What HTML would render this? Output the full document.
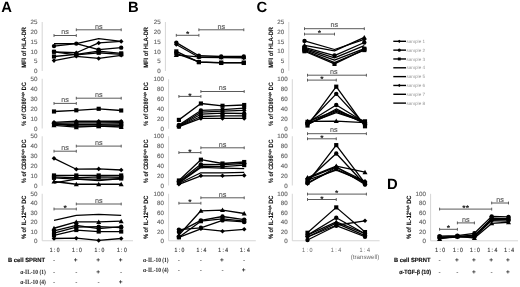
<!DOCTYPE html>
<html><head><meta charset="utf-8"><title>Figure</title><style>
html,body{margin:0;padding:0;background:#fff;}
body{width:520px;height:287px;overflow:hidden;}
svg{display:block;font-family:"Liberation Sans",sans-serif;filter:grayscale(1);text-rendering:geometricPrecision;}
.tk{font-size:6.2px;fill:#666;stroke:#666;stroke-width:0.15px;text-anchor:end;}
.yl{font-size:6.3px;font-weight:bold;fill:#111;stroke:#111;stroke-width:0.1px;}
.ns{font-size:7.2px;fill:#555;stroke:#555;stroke-width:0.12px;text-anchor:middle;}
.st{font-size:8.5px;font-weight:bold;fill:#222;text-anchor:middle;}
.pl{font-size:14.8px;font-weight:bold;fill:#000;}
.xl{font-size:6.2px;fill:#444;stroke:#444;stroke-width:0.2px;}
.rl{font-size:6px;font-weight:bold;fill:#111;stroke:#111;stroke-width:0.15px;}
.xc{font-size:6.2px;fill:#666;}
.rs{font-family:"Liberation Serif",serif;font-size:6.4px;font-weight:bold;fill:#222;}
.sg{font-size:6.5px;fill:#333;text-anchor:middle;}
.sp{font-weight:bold;fill:#222;}
.lg{font-size:4.6px;fill:#999;}
</style></head>
<body><svg width="520" height="287" viewBox="0 0 520 287">
<rect width="520" height="287" fill="#fff"/>
<line x1="42.2" y1="22" x2="42.2" y2="71" stroke="#d6d6d6" stroke-width="1"/>
<text x="37.5" y="73.15" class="tk">0</text>
<text x="37.5" y="63.35" class="tk">5</text>
<text x="37.5" y="53.55" class="tk">10</text>
<text x="37.5" y="43.75" class="tk">15</text>
<text x="37.5" y="33.95" class="tk">20</text>
<text x="37.5" y="24.15" class="tk">25</text>
<path d="M54 34.1V36.9M54 35.5H76.3M76.3 34.1V36.9" stroke="#5a5a5a" stroke-width="1" fill="none"/>
<text x="65.15" y="34.25" class="ns">ns</text>
<path d="M76.3 28.4V31.2M76.3 29.8H121.2M121.2 28.4V31.2" stroke="#5a5a5a" stroke-width="1" fill="none"/>
<text x="98.75" y="28.55" class="ns">ns</text>
<polyline points="54,43.76 76.3,43.56 98.7,38.66 121.2,41.4" fill="none" stroke="#000" stroke-width="1.3" stroke-linejoin="round"/>
<polyline points="54,46.11 76.3,43.56 98.7,49.64 121.2,47.68" fill="none" stroke="#000" stroke-width="1.3" stroke-linejoin="round"/>
<polyline points="54,51.79 76.3,52.77 98.7,42.97 121.2,41.4" fill="none" stroke="#000" stroke-width="1.3" stroke-linejoin="round"/>
<polyline points="54,56.5 76.3,54.34 98.7,51.2 121.2,53.36" fill="none" stroke="#000" stroke-width="1.3" stroke-linejoin="round"/>
<polyline points="54,60.61 76.3,56.3 98.7,58.46 121.2,55.32" fill="none" stroke="#000" stroke-width="1.3" stroke-linejoin="round"/>
<polyline points="54,51.79 76.3,54.93 98.7,52.77 121.2,54.34" fill="none" stroke="#000" stroke-width="1.3" stroke-linejoin="round"/>
<g fill="#000">




<circle cx="54" cy="46.11" r="2.18"/>
<circle cx="76.3" cy="43.56" r="2.18"/>
<circle cx="98.7" cy="49.64" r="2.18"/>
<circle cx="121.2" cy="47.68" r="2.18"/>
<path d="M54 49.49L56.3 51.79L54 54.09L51.7 51.79Z"/>
<path d="M76.3 50.47L78.6 52.77L76.3 55.07L74 52.77Z"/>
<path d="M98.7 40.67L101 42.97L98.7 45.27L96.4 42.97Z"/>
<path d="M121.2 39.1L123.5 41.4L121.2 43.7L118.9 41.4Z"/>
<rect x="51.93" y="54.43" width="4.14" height="4.14"/>
<rect x="74.23" y="52.27" width="4.14" height="4.14"/>
<rect x="96.63" y="49.13" width="4.14" height="4.14"/>
<rect x="119.13" y="51.29" width="4.14" height="4.14"/>
<path d="M54 58.31L56.3 60.61L54 62.91L51.7 60.61Z"/>
<path d="M76.3 54L78.6 56.3L76.3 58.6L74 56.3Z"/>
<path d="M98.7 56.16L101 58.46L98.7 60.76L96.4 58.46Z"/>
<path d="M121.2 53.02L123.5 55.32L121.2 57.62L118.9 55.32Z"/>
<rect x="51.93" y="49.72" width="4.14" height="4.14"/>
<rect x="74.23" y="52.86" width="4.14" height="4.14"/>
<rect x="96.63" y="50.7" width="4.14" height="4.14"/>
<rect x="119.13" y="52.27" width="4.14" height="4.14"/>
</g>
<text transform="translate(25.9 47.4) rotate(-90)" class="yl" x="-20.4" textLength="40.8" lengthAdjust="spacingAndGlyphs">MFI of HLA-DR</text>
<line x1="42.2" y1="78.75" x2="42.2" y2="128.5" stroke="#d6d6d6" stroke-width="1"/>
<text x="37.5" y="130.65" class="tk">0</text>
<text x="37.5" y="120.7" class="tk">10</text>
<text x="37.5" y="110.75" class="tk">20</text>
<text x="37.5" y="100.8" class="tk">30</text>
<text x="37.5" y="90.85" class="tk">40</text>
<text x="37.5" y="80.9" class="tk">50</text>
<path d="M54 102V104.8M54 103.4H76.3M76.3 102V104.8" stroke="#5a5a5a" stroke-width="1" fill="none"/>
<text x="65.15" y="102.15" class="ns">ns</text>
<path d="M76.3 96.8V99.6M76.3 98.2H121.2M121.2 96.8V99.6" stroke="#5a5a5a" stroke-width="1" fill="none"/>
<text x="98.75" y="96.95" class="ns">ns</text>
<polyline points="54,111.49 76.3,110.29 98.7,108.8 121.2,110.49" fill="none" stroke="#000" stroke-width="1.3" stroke-linejoin="round"/>
<polyline points="54,122.33 76.3,121.24 98.7,121.24 121.2,121.24" fill="none" stroke="#000" stroke-width="1.3" stroke-linejoin="round"/>
<polyline points="54,123.33 76.3,122.83 98.7,122.83 121.2,122.53" fill="none" stroke="#000" stroke-width="1.3" stroke-linejoin="round"/>
<polyline points="54,124.32 76.3,124.32 98.7,124.32 121.2,124.02" fill="none" stroke="#000" stroke-width="1.3" stroke-linejoin="round"/>
<polyline points="54,125.42 76.3,127.21 98.7,126.21 121.2,127.01" fill="none" stroke="#000" stroke-width="1.3" stroke-linejoin="round"/>
<polyline points="54,124.02 76.3,126.01 98.7,126.01 121.2,125.71" fill="none" stroke="#000" stroke-width="1.3" stroke-linejoin="round"/>
<g fill="#000">
<rect x="51.93" y="109.42" width="4.14" height="4.14"/>
<rect x="74.23" y="108.22" width="4.14" height="4.14"/>
<rect x="96.63" y="106.73" width="4.14" height="4.14"/>
<rect x="119.13" y="108.42" width="4.14" height="4.14"/>
<path d="M54 120.03L56.3 122.33L54 124.63L51.7 122.33Z"/>
<path d="M76.3 118.94L78.6 121.24L76.3 123.54L74 121.24Z"/>
<path d="M98.7 118.94L101 121.24L98.7 123.54L96.4 121.24Z"/>
<path d="M121.2 118.94L123.5 121.24L121.2 123.54L118.9 121.24Z"/>
<circle cx="54" cy="123.33" r="2.18"/>
<circle cx="76.3" cy="122.83" r="2.18"/>
<circle cx="98.7" cy="122.83" r="2.18"/>
<circle cx="121.2" cy="122.53" r="2.18"/>
<rect x="51.93" y="122.25" width="4.14" height="4.14"/>
<rect x="74.23" y="122.25" width="4.14" height="4.14"/>
<rect x="96.63" y="122.25" width="4.14" height="4.14"/>
<rect x="119.13" y="121.95" width="4.14" height="4.14"/>
<path d="M54 122.89L56.53 127.37L51.47 127.37Z"/>
<path d="M76.3 124.68L78.83 129.16L73.77 129.16Z"/>
<path d="M98.7 123.68L101.23 128.17L96.17 128.17Z"/>
<path d="M121.2 124.48L123.73 128.96L118.67 128.96Z"/>

<rect x="74.23" y="123.94" width="4.14" height="4.14"/>
<rect x="96.63" y="123.94" width="4.14" height="4.14"/>
<rect x="119.13" y="123.64" width="4.14" height="4.14"/>
</g>
<text transform="translate(25.9 104) rotate(-90)" class="yl" x="-21.8" textLength="43.6" lengthAdjust="spacingAndGlyphs">% of CD80<tspan font-size="3.4" dy="-1.8">high</tspan><tspan dy="1.8"> DC</tspan></text>
<line x1="42.2" y1="136.25" x2="42.2" y2="185.75" stroke="#d6d6d6" stroke-width="1"/>
<text x="37.5" y="187.9" class="tk">0</text>
<text x="37.5" y="178" class="tk">10</text>
<text x="37.5" y="168.1" class="tk">20</text>
<text x="37.5" y="158.2" class="tk">30</text>
<text x="37.5" y="148.3" class="tk">40</text>
<text x="37.5" y="138.4" class="tk">50</text>
<path d="M54 149.8V152.6M54 151.2H76.3M76.3 149.8V152.6" stroke="#5a5a5a" stroke-width="1" fill="none"/>
<text x="65.15" y="149.95" class="ns">ns</text>
<path d="M76.3 144.7V147.5M76.3 146.1H121.2M121.2 144.7V147.5" stroke="#5a5a5a" stroke-width="1" fill="none"/>
<text x="98.75" y="144.85" class="ns">ns</text>
<polyline points="54,158.33 76.3,169.22 98.7,168.92 121.2,170.01" fill="none" stroke="#000" stroke-width="1.3" stroke-linejoin="round"/>
<polyline points="54,175.45 76.3,175.45 98.7,175.45 121.2,175.45" fill="none" stroke="#000" stroke-width="1.3" stroke-linejoin="round"/>
<polyline points="54,176.84 76.3,177.73 98.7,176.94 121.2,177.24" fill="none" stroke="#000" stroke-width="1.3" stroke-linejoin="round"/>
<polyline points="54,177.83 76.3,179.22 98.7,180.5 121.2,178.52" fill="none" stroke="#000" stroke-width="1.3" stroke-linejoin="round"/>
<polyline points="54,182.98 76.3,179.22 98.7,179.22 121.2,179.22" fill="none" stroke="#000" stroke-width="1.3" stroke-linejoin="round"/>
<polyline points="54,181.49 76.3,184.26 98.7,184.26 121.2,184.26" fill="none" stroke="#000" stroke-width="1.3" stroke-linejoin="round"/>
<g fill="#000">
<path d="M54 156.03L56.3 158.33L54 160.63L51.7 158.33Z"/>
<path d="M76.3 166.92L78.6 169.22L76.3 171.52L74 169.22Z"/>
<path d="M98.7 166.62L101 168.92L98.7 171.22L96.4 168.92Z"/>
<path d="M121.2 167.71L123.5 170.01L121.2 172.31L118.9 170.01Z"/>
<rect x="51.93" y="173.38" width="4.14" height="4.14"/>
<rect x="74.23" y="173.38" width="4.14" height="4.14"/>
<rect x="96.63" y="173.38" width="4.14" height="4.14"/>
<rect x="119.13" y="173.38" width="4.14" height="4.14"/>
<rect x="51.93" y="174.77" width="4.14" height="4.14"/>
<rect x="74.23" y="175.66" width="4.14" height="4.14"/>
<rect x="96.63" y="174.87" width="4.14" height="4.14"/>
<rect x="119.13" y="175.17" width="4.14" height="4.14"/>
<rect x="51.93" y="175.76" width="4.14" height="4.14"/>


<rect x="119.13" y="176.45" width="4.14" height="4.14"/>




<path d="M54 178.96L56.53 183.45L51.47 183.45Z"/>
<path d="M76.3 181.73L78.83 186.22L73.77 186.22Z"/>
<path d="M98.7 181.73L101.23 186.22L96.17 186.22Z"/>
<path d="M121.2 181.73L123.73 186.22L118.67 186.22Z"/>
</g>
<text transform="translate(25.9 161.3) rotate(-90)" class="yl" x="-21.8" textLength="43.6" lengthAdjust="spacingAndGlyphs">% of CD86<tspan font-size="3.4" dy="-1.8">high</tspan><tspan dy="1.8"> DC</tspan></text>
<line x1="42.2" y1="193.75" x2="42.2" y2="240.75" stroke="#d6d6d6" stroke-width="1"/>
<text x="37.5" y="242.9" class="tk">0</text>
<text x="37.5" y="233.5" class="tk">10</text>
<text x="37.5" y="224.1" class="tk">20</text>
<text x="37.5" y="214.7" class="tk">30</text>
<text x="37.5" y="205.3" class="tk">40</text>
<text x="37.5" y="195.9" class="tk">50</text>
<line x1="42.2" y1="240.75" x2="133" y2="240.75" stroke="#d6d6d6" stroke-width="1"/>
<path d="M54 207.6V210.4M54 209H76.3M76.3 207.6V210.4" stroke="#5a5a5a" stroke-width="1" fill="none"/>
<text x="65.15" y="211.1" class="st">*</text>
<path d="M76.3 202.6V205.4M76.3 204H121.2M121.2 202.6V205.4" stroke="#5a5a5a" stroke-width="1" fill="none"/>
<text x="98.75" y="202.75" class="ns">ns</text>
<polyline points="54,220.26 76.3,215.37 98.7,214.34 121.2,215.37" fill="none" stroke="#000" stroke-width="1.3" stroke-linejoin="round"/>
<polyline points="54,228.25 76.3,221.95 98.7,221.95 121.2,221.2" fill="none" stroke="#000" stroke-width="1.3" stroke-linejoin="round"/>
<polyline points="54,230.79 76.3,225.43 98.7,228.53 121.2,226.65" fill="none" stroke="#000" stroke-width="1.3" stroke-linejoin="round"/>
<polyline points="54,233.04 76.3,227.21 98.7,226.65 121.2,227.59" fill="none" stroke="#000" stroke-width="1.3" stroke-linejoin="round"/>
<polyline points="54,235.39 76.3,230.03 98.7,231.54 121.2,231.54" fill="none" stroke="#000" stroke-width="1.3" stroke-linejoin="round"/>
<polyline points="54,238.49 76.3,238.21 98.7,240.47 121.2,238.49" fill="none" stroke="#000" stroke-width="1.3" stroke-linejoin="round"/>
<g fill="#000">




<path d="M54 225.72L56.53 230.2L51.47 230.2Z"/>
<path d="M76.3 219.42L78.83 223.91L73.77 223.91Z"/>
<path d="M98.7 219.42L101.23 223.91L96.17 223.91Z"/>
<path d="M121.2 218.67L123.73 223.15L118.67 223.15Z"/>
<circle cx="54" cy="230.79" r="2.18"/>
<circle cx="76.3" cy="225.43" r="2.18"/>
<circle cx="98.7" cy="228.53" r="2.18"/>
<circle cx="121.2" cy="226.65" r="2.18"/>
<circle cx="54" cy="233.04" r="2.18"/>
<circle cx="76.3" cy="227.21" r="2.18"/>
<circle cx="98.7" cy="226.65" r="2.18"/>
<circle cx="121.2" cy="227.59" r="2.18"/>
<rect x="51.93" y="233.32" width="4.14" height="4.14"/>
<rect x="74.23" y="227.96" width="4.14" height="4.14"/>
<rect x="96.63" y="229.47" width="4.14" height="4.14"/>
<rect x="119.13" y="229.47" width="4.14" height="4.14"/>
<path d="M54 236.19L56.3 238.49L54 240.79L51.7 238.49Z"/>
<path d="M76.3 235.91L78.6 238.21L76.3 240.51L74 238.21Z"/>
<path d="M98.7 238.17L101 240.47L98.7 242.77L96.4 240.47Z"/>
<path d="M121.2 236.19L123.5 238.49L121.2 240.79L118.9 238.49Z"/>
</g>
<text transform="translate(25.9 217.3) rotate(-90)" class="yl" x="-21.8" textLength="43.6" lengthAdjust="spacingAndGlyphs">% of IL-12<tspan font-size="3.4" dy="-1.8">high</tspan><tspan dy="1.8"> DC</tspan></text>
<line x1="165.4" y1="22" x2="165.4" y2="71" stroke="#d6d6d6" stroke-width="1"/>
<text x="160.7" y="73.15" class="tk">0</text>
<text x="160.7" y="63.35" class="tk">5</text>
<text x="160.7" y="53.55" class="tk">10</text>
<text x="160.7" y="43.75" class="tk">15</text>
<text x="160.7" y="33.95" class="tk">20</text>
<text x="160.7" y="24.15" class="tk">25</text>
<path d="M176.3 33.9V36.7M176.3 35.3H198.9M198.9 33.9V36.7" stroke="#5a5a5a" stroke-width="1" fill="none"/>
<text x="187.6" y="37.4" class="st">*</text>
<path d="M198.9 28.4V31.2M198.9 29.8H243.8M243.8 28.4V31.2" stroke="#5a5a5a" stroke-width="1" fill="none"/>
<text x="221.35" y="28.55" class="ns">ns</text>
<polyline points="176.3,42.58 198.9,55.71 221.2,56.5 243.8,56.5" fill="none" stroke="#000" stroke-width="1.3" stroke-linejoin="round"/>
<polyline points="176.3,44.54 198.9,57.28 221.2,57.48 243.8,57.87" fill="none" stroke="#000" stroke-width="1.3" stroke-linejoin="round"/>
<polyline points="176.3,51.4 198.9,62.18 221.2,62.96 243.8,62.96" fill="none" stroke="#000" stroke-width="1.3" stroke-linejoin="round"/>
<polyline points="176.3,55.12 198.9,56.89 221.2,57.28 243.8,57.28" fill="none" stroke="#000" stroke-width="1.3" stroke-linejoin="round"/>
<polyline points="176.3,53.36 198.9,61.98 221.2,62.57 243.8,62.57" fill="none" stroke="#000" stroke-width="1.3" stroke-linejoin="round"/>
<g fill="#000">
<circle cx="176.3" cy="42.58" r="2.18"/>
<circle cx="198.9" cy="55.71" r="2.18"/>
<circle cx="221.2" cy="56.5" r="2.18"/>
<circle cx="243.8" cy="56.5" r="2.18"/>
<path d="M176.3 42.24L178.6 44.54L176.3 46.84L174 44.54Z"/>
<path d="M198.9 54.98L201.2 57.28L198.9 59.58L196.6 57.28Z"/>
<path d="M221.2 55.18L223.5 57.48L221.2 59.78L218.9 57.48Z"/>
<path d="M243.8 55.57L246.1 57.87L243.8 60.17L241.5 57.87Z"/>
<rect x="174.23" y="49.33" width="4.14" height="4.14"/>
<rect x="196.83" y="60.11" width="4.14" height="4.14"/>
<rect x="219.13" y="60.89" width="4.14" height="4.14"/>
<rect x="241.73" y="60.89" width="4.14" height="4.14"/>
<path d="M176.3 52.59L178.83 57.08L173.77 57.08Z"/>
<path d="M198.9 54.36L201.43 58.84L196.37 58.84Z"/>
<path d="M221.2 54.75L223.73 59.23L218.67 59.23Z"/>
<path d="M243.8 54.75L246.33 59.23L241.27 59.23Z"/>
<rect x="174.23" y="51.29" width="4.14" height="4.14"/>
<rect x="196.83" y="59.91" width="4.14" height="4.14"/>
<rect x="219.13" y="60.5" width="4.14" height="4.14"/>
<rect x="241.73" y="60.5" width="4.14" height="4.14"/>
</g>
<text transform="translate(148.2 47.4) rotate(-90)" class="yl" x="-20.4" textLength="40.8" lengthAdjust="spacingAndGlyphs">MFI of HLA-DR</text>
<line x1="168.6" y1="79.25" x2="168.6" y2="128.75" stroke="#d6d6d6" stroke-width="1"/>
<text x="163.9" y="130.9" class="tk">0</text>
<text x="163.9" y="121" class="tk">20</text>
<text x="163.9" y="111.1" class="tk">40</text>
<text x="163.9" y="101.2" class="tk">60</text>
<text x="163.9" y="91.3" class="tk">80</text>
<text x="163.9" y="81.4" class="tk">100</text>
<path d="M178.9 95V97.8M178.9 96.4H200.9M200.9 95V97.8" stroke="#5a5a5a" stroke-width="1" fill="none"/>
<text x="189.9" y="98.5" class="st">*</text>
<path d="M200.9 90.1V92.9M200.9 91.5H244.2M244.2 90.1V92.9" stroke="#5a5a5a" stroke-width="1" fill="none"/>
<text x="222.55" y="90.25" class="ns">ns</text>
<polyline points="178.9,119.89 200.9,103.5 222.5,105.78 244.2,104.99" fill="none" stroke="#000" stroke-width="1.3" stroke-linejoin="round"/>
<polyline points="178.9,124.99 200.9,110.44 222.5,109.59 244.2,108.11" fill="none" stroke="#000" stroke-width="1.3" stroke-linejoin="round"/>
<polyline points="178.9,125.78 200.9,112.22 222.5,111.18 244.2,110.44" fill="none" stroke="#000" stroke-width="1.3" stroke-linejoin="round"/>
<polyline points="178.9,126.28 200.9,114.2 222.5,113.21 244.2,113.5" fill="none" stroke="#000" stroke-width="1.3" stroke-linejoin="round"/>
<polyline points="178.9,126.52 200.9,116.52 222.5,115.78 244.2,115.78" fill="none" stroke="#000" stroke-width="1.3" stroke-linejoin="round"/>
<polyline points="178.9,126.52 200.9,118.4 222.5,118.4 244.2,118.4" fill="none" stroke="#000" stroke-width="1.3" stroke-linejoin="round"/>
<g fill="#000">
<rect x="176.83" y="117.82" width="4.14" height="4.14"/>
<rect x="198.83" y="101.44" width="4.14" height="4.14"/>
<rect x="220.43" y="103.71" width="4.14" height="4.14"/>
<rect x="242.13" y="102.92" width="4.14" height="4.14"/>
<circle cx="178.9" cy="124.99" r="2.18"/>
<circle cx="200.9" cy="110.44" r="2.18"/>
<circle cx="222.5" cy="109.59" r="2.18"/>
<circle cx="244.2" cy="108.11" r="2.18"/>
<path d="M178.9 123.48L181.2 125.78L178.9 128.08L176.6 125.78Z"/>
<path d="M200.9 109.92L203.2 112.22L200.9 114.52L198.6 112.22Z"/>
<path d="M222.5 108.88L224.8 111.18L222.5 113.48L220.2 111.18Z"/>
<path d="M244.2 108.14L246.5 110.44L244.2 112.73L241.9 110.44Z"/>
<circle cx="178.9" cy="126.28" r="2.18"/>
<circle cx="200.9" cy="114.2" r="2.18"/>
<circle cx="222.5" cy="113.21" r="2.18"/>
<circle cx="244.2" cy="113.5" r="2.18"/>
<rect x="176.83" y="124.45" width="4.14" height="4.14"/>
<rect x="198.83" y="114.45" width="4.14" height="4.14"/>
<rect x="220.43" y="113.71" width="4.14" height="4.14"/>
<rect x="242.13" y="113.71" width="4.14" height="4.14"/>
<path d="M178.9 124.22L181.2 126.52L178.9 128.82L176.6 126.52Z"/>
<path d="M200.9 116.1L203.2 118.4L200.9 120.7L198.6 118.4Z"/>
<path d="M222.5 116.1L224.8 118.4L222.5 120.7L220.2 118.4Z"/>
<path d="M244.2 116.1L246.5 118.4L244.2 120.7L241.9 118.4Z"/>
</g>
<text transform="translate(148.2 104) rotate(-90)" class="yl" x="-21.8" textLength="43.6" lengthAdjust="spacingAndGlyphs">% of CD80<tspan font-size="3.4" dy="-1.8">high</tspan><tspan dy="1.8"> DC</tspan></text>
<line x1="168.6" y1="136.25" x2="168.6" y2="185.5" stroke="#d6d6d6" stroke-width="1"/>
<text x="163.9" y="187.65" class="tk">0</text>
<text x="163.9" y="177.8" class="tk">20</text>
<text x="163.9" y="167.95" class="tk">40</text>
<text x="163.9" y="158.1" class="tk">60</text>
<text x="163.9" y="148.25" class="tk">80</text>
<text x="163.9" y="138.4" class="tk">100</text>
<path d="M178.9 151.2V154M178.9 152.6H200.9M200.9 151.2V154" stroke="#5a5a5a" stroke-width="1" fill="none"/>
<text x="189.9" y="154.7" class="st">*</text>
<path d="M200.9 146.4V149.2M200.9 147.8H244.2M244.2 146.4V149.2" stroke="#5a5a5a" stroke-width="1" fill="none"/>
<text x="222.55" y="146.55" class="ns">ns</text>
<polyline points="178.9,180.48 200.9,159.69 222.5,163.49 244.2,162.01" fill="none" stroke="#000" stroke-width="1.3" stroke-linejoin="round"/>
<polyline points="178.9,181.56 200.9,164.32 222.5,164.62 244.2,163.49" fill="none" stroke="#000" stroke-width="1.3" stroke-linejoin="round"/>
<polyline points="178.9,182.54 200.9,166.19 222.5,166.59 244.2,165.11" fill="none" stroke="#000" stroke-width="1.3" stroke-linejoin="round"/>
<polyline points="178.9,183.04 200.9,167.38 222.5,168.21 244.2,168.61" fill="none" stroke="#000" stroke-width="1.3" stroke-linejoin="round"/>
<polyline points="178.9,183.53 200.9,172.79 222.5,172.79 244.2,172.3" fill="none" stroke="#000" stroke-width="1.3" stroke-linejoin="round"/>
<polyline points="178.9,184.32 200.9,175.8 222.5,175.8 244.2,175.4" fill="none" stroke="#000" stroke-width="1.3" stroke-linejoin="round"/>
<g fill="#000">
<rect x="176.83" y="178.41" width="4.14" height="4.14"/>
<rect x="198.83" y="157.62" width="4.14" height="4.14"/>
<rect x="220.43" y="161.42" width="4.14" height="4.14"/>
<rect x="242.13" y="159.94" width="4.14" height="4.14"/>
<circle cx="178.9" cy="181.56" r="2.18"/>
<circle cx="200.9" cy="164.32" r="2.18"/>
<circle cx="222.5" cy="164.62" r="2.18"/>
<circle cx="244.2" cy="163.49" r="2.18"/>
<rect x="176.83" y="180.47" width="4.14" height="4.14"/>
<rect x="198.83" y="164.12" width="4.14" height="4.14"/>
<rect x="220.43" y="164.52" width="4.14" height="4.14"/>
<rect x="242.13" y="163.04" width="4.14" height="4.14"/>








<path d="M178.9 182.02L181.2 184.32L178.9 186.62L176.6 184.32Z"/>
<path d="M200.9 173.5L203.2 175.8L200.9 178.1L198.6 175.8Z"/>
<path d="M222.5 173.5L224.8 175.8L222.5 178.1L220.2 175.8Z"/>
<path d="M244.2 173.1L246.5 175.4L244.2 177.7L241.9 175.4Z"/>
</g>
<text transform="translate(148.2 161.3) rotate(-90)" class="yl" x="-21.8" textLength="43.6" lengthAdjust="spacingAndGlyphs">% of CD86<tspan font-size="3.4" dy="-1.8">high</tspan><tspan dy="1.8"> DC</tspan></text>
<line x1="168.6" y1="193.75" x2="168.6" y2="240.75" stroke="#d6d6d6" stroke-width="1"/>
<text x="163.9" y="242.9" class="tk">0</text>
<text x="163.9" y="233.5" class="tk">20</text>
<text x="163.9" y="224.1" class="tk">40</text>
<text x="163.9" y="214.7" class="tk">60</text>
<text x="163.9" y="205.3" class="tk">80</text>
<text x="163.9" y="195.9" class="tk">100</text>
<line x1="168.6" y1="240.75" x2="255.8" y2="240.75" stroke="#d6d6d6" stroke-width="1"/>
<path d="M178.9 201.8V204.6M178.9 203.2H200.9M200.9 201.8V204.6" stroke="#5a5a5a" stroke-width="1" fill="none"/>
<text x="189.9" y="205.3" class="st">*</text>
<path d="M200.9 196.4V199.2M200.9 197.8H244.2M244.2 196.4V199.2" stroke="#5a5a5a" stroke-width="1" fill="none"/>
<text x="222.55" y="196.55" class="ns">ns</text>
<polyline points="178.9,235.02 200.9,210.81 222.5,210.11 244.2,213.49" fill="none" stroke="#000" stroke-width="1.3" stroke-linejoin="round"/>
<polyline points="178.9,231.91 200.9,220.4 222.5,216.5 244.2,219.6" fill="none" stroke="#000" stroke-width="1.3" stroke-linejoin="round"/>
<polyline points="178.9,237.32 200.9,221.2 222.5,218.8 244.2,221.2" fill="none" stroke="#000" stroke-width="1.3" stroke-linejoin="round"/>
<polyline points="178.9,229.61 200.9,227.78 222.5,220.4 244.2,221.95" fill="none" stroke="#000" stroke-width="1.3" stroke-linejoin="round"/>
<polyline points="178.9,237.32 200.9,228.81 222.5,231.21 244.2,229.28" fill="none" stroke="#000" stroke-width="1.3" stroke-linejoin="round"/>
<g fill="#000">
<path d="M178.9 232.49L181.43 236.97L176.37 236.97Z"/>
<path d="M200.9 208.28L203.43 212.77L198.37 212.77Z"/>
<path d="M222.5 207.58L225.03 212.06L219.97 212.06Z"/>
<path d="M244.2 210.96L246.73 215.45L241.67 215.45Z"/>
<circle cx="178.9" cy="231.91" r="2.18"/>
<circle cx="200.9" cy="220.4" r="2.18"/>
<circle cx="222.5" cy="216.5" r="2.18"/>
<circle cx="244.2" cy="219.6" r="2.18"/>
<rect x="176.83" y="235.25" width="4.14" height="4.14"/>
<rect x="198.83" y="219.13" width="4.14" height="4.14"/>
<rect x="220.43" y="216.73" width="4.14" height="4.14"/>
<rect x="242.13" y="219.13" width="4.14" height="4.14"/>
<circle cx="178.9" cy="229.61" r="2.18"/>
<circle cx="200.9" cy="227.78" r="2.18"/>
<circle cx="222.5" cy="220.4" r="2.18"/>
<circle cx="244.2" cy="221.95" r="2.18"/>
<path d="M178.9 235.02L181.2 237.32L178.9 239.62L176.6 237.32Z"/>
<path d="M200.9 226.51L203.2 228.81L200.9 231.11L198.6 228.81Z"/>
<path d="M222.5 228.91L224.8 231.21L222.5 233.51L220.2 231.21Z"/>
<path d="M244.2 226.98L246.5 229.28L244.2 231.58L241.9 229.28Z"/>
</g>
<text transform="translate(148.2 217.3) rotate(-90)" class="yl" x="-21.8" textLength="43.6" lengthAdjust="spacingAndGlyphs">% of IL-12<tspan font-size="3.4" dy="-1.8">high</tspan><tspan dy="1.8"> DC</tspan></text>
<line x1="288.8" y1="22" x2="288.8" y2="70.75" stroke="#d6d6d6" stroke-width="1"/>
<text x="284.1" y="72.9" class="tk">0</text>
<text x="284.1" y="63.15" class="tk">5</text>
<text x="284.1" y="53.4" class="tk">10</text>
<text x="284.1" y="43.65" class="tk">15</text>
<text x="284.1" y="33.9" class="tk">20</text>
<text x="284.1" y="24.15" class="tk">25</text>
<path d="M304.5 32.7V35.5M304.5 34.1H334.5M334.5 32.7V35.5" stroke="#5a5a5a" stroke-width="1" fill="none"/>
<text x="319.5" y="36.2" class="st">*</text>
<path d="M304.5 27.3V30.1M304.5 28.7H364.3M364.3 27.3V30.1" stroke="#5a5a5a" stroke-width="1" fill="none"/>
<text x="334.4" y="27.45" class="ns">ns</text>
<polyline points="304.5,40.91 334.5,49.5 364.3,39.35" fill="none" stroke="#000" stroke-width="1.3" stroke-linejoin="round"/>
<polyline points="304.5,45.4 334.5,50.86 364.3,37.41" fill="none" stroke="#000" stroke-width="1.3" stroke-linejoin="round"/>
<polyline points="304.5,47.35 334.5,55.54 364.3,42.48" fill="none" stroke="#000" stroke-width="1.3" stroke-linejoin="round"/>
<polyline points="304.5,48.33 334.5,57.88 364.3,45.59" fill="none" stroke="#000" stroke-width="1.3" stroke-linejoin="round"/>
<polyline points="304.5,49.3 334.5,60.22 364.3,48.72" fill="none" stroke="#000" stroke-width="1.3" stroke-linejoin="round"/>
<polyline points="304.5,50.28 334.5,62.56 364.3,50.08" fill="none" stroke="#000" stroke-width="1.3" stroke-linejoin="round"/>
<polyline points="304.5,51.25 334.5,63.92 364.3,49.3" fill="none" stroke="#000" stroke-width="1.3" stroke-linejoin="round"/>
<g fill="#000">
<circle cx="304.5" cy="40.91" r="2.18"/>

<path d="M364.3 37.05L366.6 39.35L364.3 41.65L362 39.35Z"/>
<path d="M304.5 42.87L307.03 47.36L301.97 47.36Z"/>

<path d="M364.3 34.88L366.83 39.36L361.77 39.36Z"/>
<rect x="302.43" y="45.28" width="4.14" height="4.14"/>
<circle cx="334.5" cy="55.54" r="2.18"/>
<circle cx="364.3" cy="42.48" r="2.18"/>
<rect x="302.43" y="46.26" width="4.14" height="4.14"/>


<rect x="302.43" y="47.23" width="4.14" height="4.14"/>

<rect x="362.23" y="46.65" width="4.14" height="4.14"/>
<rect x="302.43" y="48.21" width="4.14" height="4.14"/>

<rect x="362.23" y="48.01" width="4.14" height="4.14"/>
<rect x="302.43" y="49.18" width="4.14" height="4.14"/>
<rect x="332.43" y="61.85" width="4.14" height="4.14"/>
<rect x="362.23" y="47.23" width="4.14" height="4.14"/>
</g>
<text transform="translate(272.6 47.4) rotate(-90)" class="yl" x="-20.4" textLength="40.8" lengthAdjust="spacingAndGlyphs">MFI of HLA-DR</text>
<line x1="292.3" y1="79.25" x2="292.3" y2="128.75" stroke="#d6d6d6" stroke-width="1"/>
<text x="287.6" y="130.9" class="tk">0</text>
<text x="287.6" y="121" class="tk">20</text>
<text x="287.6" y="111.1" class="tk">40</text>
<text x="287.6" y="101.2" class="tk">60</text>
<text x="287.6" y="91.3" class="tk">80</text>
<text x="287.6" y="81.4" class="tk">100</text>
<path d="M307.5 78.7V81.5M307.5 80.1H336.25M336.25 78.7V81.5" stroke="#5a5a5a" stroke-width="1" fill="none"/>
<text x="321.88" y="82.2" class="st">*</text>
<path d="M307.5 73.8V76.6M307.5 75.2H366.4M366.4 73.8V76.6" stroke="#5a5a5a" stroke-width="1" fill="none"/>
<text x="333.75" y="73.95" class="ns">ns</text>
<polyline points="307.5,125.53 336.25,86.67 365,126.28" fill="none" stroke="#000" stroke-width="1.3" stroke-linejoin="round"/>
<polyline points="307.5,123.8 336.25,93.85 365,125.04" fill="none" stroke="#000" stroke-width="1.3" stroke-linejoin="round"/>
<polyline points="307.5,122.81 336.25,104.99 365,122.56" fill="none" stroke="#000" stroke-width="1.3" stroke-linejoin="round"/>
<polyline points="307.5,124.79 336.25,108.95 365,123.8" fill="none" stroke="#000" stroke-width="1.3" stroke-linejoin="round"/>
<polyline points="307.5,124.3 336.25,111.42 365,122.81" fill="none" stroke="#000" stroke-width="1.3" stroke-linejoin="round"/>
<polyline points="307.5,123.31 336.25,112.66 365,121.82" fill="none" stroke="#000" stroke-width="1.3" stroke-linejoin="round"/>
<polyline points="307.5,121.33 336.25,121.08 365,122.56" fill="none" stroke="#000" stroke-width="1.3" stroke-linejoin="round"/>
<polyline points="307.5,121.82 336.25,110.44 365,121.33" fill="none" stroke="#000" stroke-width="1.3" stroke-linejoin="round"/>
<g fill="#000">
<rect x="305.43" y="123.46" width="4.14" height="4.14"/>
<rect x="334.18" y="84.61" width="4.14" height="4.14"/>
<rect x="362.93" y="124.21" width="4.14" height="4.14"/>
<circle cx="307.5" cy="123.8" r="2.18"/>
<circle cx="336.25" cy="93.85" r="2.18"/>
<circle cx="365" cy="125.04" r="2.18"/>
<circle cx="307.5" cy="122.81" r="2.18"/>
<circle cx="336.25" cy="104.99" r="2.18"/>
<circle cx="365" cy="122.56" r="2.18"/>
<path d="M307.5 122.49L309.8 124.79L307.5 127.09L305.2 124.79Z"/>

<path d="M365 121.5L367.3 123.8L365 126.1L362.7 123.8Z"/>






<path d="M307.5 118.8L310.03 123.28L304.97 123.28Z"/>
<path d="M336.25 118.55L338.78 123.03L333.72 123.03Z"/>
<path d="M365 120.03L367.53 124.52L362.47 124.52Z"/>
<rect x="305.43" y="119.75" width="4.14" height="4.14"/>

<rect x="362.93" y="119.26" width="4.14" height="4.14"/>
</g>
<text transform="translate(272.6 104) rotate(-90)" class="yl" x="-21.8" textLength="43.6" lengthAdjust="spacingAndGlyphs">% of CD80<tspan font-size="3.4" dy="-1.8">high</tspan><tspan dy="1.8"> DC</tspan></text>
<line x1="292.3" y1="136.25" x2="292.3" y2="185.5" stroke="#d6d6d6" stroke-width="1"/>
<text x="287.6" y="187.65" class="tk">0</text>
<text x="287.6" y="177.8" class="tk">20</text>
<text x="287.6" y="167.95" class="tk">40</text>
<text x="287.6" y="158.1" class="tk">60</text>
<text x="287.6" y="148.25" class="tk">80</text>
<text x="287.6" y="138.4" class="tk">100</text>
<path d="M307.5 137.4V140.2M307.5 138.8H336.25M336.25 137.4V140.2" stroke="#5a5a5a" stroke-width="1" fill="none"/>
<text x="321.88" y="140.9" class="st">*</text>
<path d="M307.5 132.3V135.1M307.5 133.7H366.4M366.4 132.3V135.1" stroke="#5a5a5a" stroke-width="1" fill="none"/>
<text x="333.75" y="132.45" class="ns">ns</text>
<polyline points="307.5,182.54 336.25,145.12 365,183.04" fill="none" stroke="#000" stroke-width="1.3" stroke-linejoin="round"/>
<polyline points="307.5,180.08 336.25,153.49 365,184.51" fill="none" stroke="#000" stroke-width="1.3" stroke-linejoin="round"/>
<polyline points="307.5,177.62 336.25,166.05 365,172.2" fill="none" stroke="#000" stroke-width="1.3" stroke-linejoin="round"/>
<polyline points="307.5,183.78 336.25,167.28 365,181.31" fill="none" stroke="#000" stroke-width="1.3" stroke-linejoin="round"/>
<polyline points="307.5,182.54 336.25,169 365,183.04" fill="none" stroke="#000" stroke-width="1.3" stroke-linejoin="round"/>
<polyline points="307.5,180.08 336.25,170.23 365,181.31" fill="none" stroke="#000" stroke-width="1.3" stroke-linejoin="round"/>
<polyline points="307.5,178.6 336.25,166.78 365,184.51" fill="none" stroke="#000" stroke-width="1.3" stroke-linejoin="round"/>
<g fill="#000">
<rect x="305.43" y="180.47" width="4.14" height="4.14"/>
<rect x="334.18" y="143.05" width="4.14" height="4.14"/>
<rect x="362.93" y="180.97" width="4.14" height="4.14"/>
<circle cx="307.5" cy="180.08" r="2.18"/>
<circle cx="336.25" cy="153.49" r="2.18"/>
<circle cx="365" cy="184.51" r="2.18"/>
<path d="M307.5 175.09L310.03 179.58L304.97 179.58Z"/>
<path d="M336.25 163.52L338.78 168L333.72 168Z"/>
<path d="M365 169.67L367.53 174.16L362.47 174.16Z"/>
<path d="M307.5 181.48L309.8 183.78L307.5 186.08L305.2 183.78Z"/>
<path d="M336.25 164.98L338.55 167.28L336.25 169.58L333.95 167.28Z"/>
<path d="M365 179.01L367.3 181.31L365 183.61L362.7 181.31Z"/>
<circle cx="307.5" cy="182.54" r="2.18"/>
<circle cx="336.25" cy="169" r="2.18"/>
<circle cx="365" cy="183.04" r="2.18"/>



<path d="M307.5 176.3L309.8 178.6L307.5 180.91L305.2 178.6Z"/>
<path d="M336.25 164.48L338.55 166.78L336.25 169.09L333.95 166.78Z"/>
<path d="M365 182.21L367.3 184.51L365 186.81L362.7 184.51Z"/>
</g>
<text transform="translate(272.6 161.3) rotate(-90)" class="yl" x="-21.8" textLength="43.6" lengthAdjust="spacingAndGlyphs">% of CD86<tspan font-size="3.4" dy="-1.8">high</tspan><tspan dy="1.8"> DC</tspan></text>
<line x1="292.3" y1="193.75" x2="292.3" y2="240.75" stroke="#d6d6d6" stroke-width="1"/>
<text x="287.6" y="242.9" class="tk">0</text>
<text x="287.6" y="233.5" class="tk">20</text>
<text x="287.6" y="224.1" class="tk">40</text>
<text x="287.6" y="214.7" class="tk">60</text>
<text x="287.6" y="205.3" class="tk">80</text>
<text x="287.6" y="195.9" class="tk">100</text>
<line x1="292.3" y1="240.75" x2="379.6" y2="240.75" stroke="#d6d6d6" stroke-width="1"/>
<path d="M307.5 198.1V200.9M307.5 199.5H336.25M336.25 198.1V200.9" stroke="#5a5a5a" stroke-width="1" fill="none"/>
<text x="321.88" y="201.6" class="st">*</text>
<path d="M307.5 192.7V195.5M307.5 194.1H366.4M366.4 192.7V195.5" stroke="#5a5a5a" stroke-width="1" fill="none"/>
<text x="336.65" y="196.2" class="st">*</text>
<polyline points="307.5,232.76 336.25,207.38 365,232.06" fill="none" stroke="#000" stroke-width="1.3" stroke-linejoin="round"/>
<polyline points="307.5,235.11 336.25,217.72 365,233.7" fill="none" stroke="#000" stroke-width="1.3" stroke-linejoin="round"/>
<polyline points="307.5,236.99 336.25,225.24 365,220.78" fill="none" stroke="#000" stroke-width="1.3" stroke-linejoin="round"/>
<polyline points="307.5,236.99 336.25,223.12 365,235.58" fill="none" stroke="#000" stroke-width="1.3" stroke-linejoin="round"/>
<polyline points="307.5,240.04 336.25,225.71 365,236.75" fill="none" stroke="#000" stroke-width="1.3" stroke-linejoin="round"/>
<polyline points="307.5,235.11 336.25,221.95 365,233.7" fill="none" stroke="#000" stroke-width="1.3" stroke-linejoin="round"/>
<g fill="#000">
<rect x="305.43" y="230.69" width="4.14" height="4.14"/>
<rect x="334.18" y="205.31" width="4.14" height="4.14"/>
<rect x="362.93" y="229.99" width="4.14" height="4.14"/>
<circle cx="307.5" cy="235.11" r="2.18"/>
<circle cx="336.25" cy="217.72" r="2.18"/>
<circle cx="365" cy="233.7" r="2.18"/>
<path d="M307.5 234.69L309.8 236.99L307.5 239.29L305.2 236.99Z"/>
<path d="M336.25 222.94L338.55 225.24L336.25 227.54L333.95 225.24Z"/>
<path d="M365 218.47L367.3 220.78L365 223.08L362.7 220.78Z"/>



<circle cx="307.5" cy="240.04" r="2.18"/>
<circle cx="336.25" cy="225.71" r="2.18"/>
<circle cx="365" cy="236.75" r="2.18"/>
<path d="M307.5 232.58L310.03 237.07L304.97 237.07Z"/>
<path d="M336.25 219.42L338.78 223.91L333.72 223.91Z"/>
<path d="M365 231.17L367.53 235.66L362.47 235.66Z"/>
</g>
<text transform="translate(272.6 217.3) rotate(-90)" class="yl" x="-21.8" textLength="43.6" lengthAdjust="spacingAndGlyphs">% of IL-12<tspan font-size="3.4" dy="-1.8">high</tspan><tspan dy="1.8"> DC</tspan></text>
<line x1="430.6" y1="193.8" x2="430.6" y2="240.8" stroke="#d6d6d6" stroke-width="1"/>
<text x="425.9" y="242.95" class="tk">0</text>
<text x="425.9" y="233.55" class="tk">20</text>
<text x="425.9" y="224.15" class="tk">40</text>
<text x="425.9" y="214.75" class="tk">60</text>
<text x="425.9" y="205.35" class="tk">80</text>
<text x="425.9" y="195.95" class="tk">100</text>
<line x1="430.6" y1="240.8" x2="518" y2="240.8" stroke="#d6d6d6" stroke-width="1"/>
<path d="M439.6 227.9V230.7M439.6 229.3H457.4M457.4 227.9V230.7" stroke="#5a5a5a" stroke-width="1" fill="none"/>
<text x="448.5" y="231.4" class="st">*</text>
<path d="M457.4 221.5V224.3M457.4 222.9H474.4M474.4 221.5V224.3" stroke="#5a5a5a" stroke-width="1" fill="none"/>
<text x="465.9" y="221.65" class="ns">ns</text>
<path d="M439.6 207.7V210.5M439.6 209.1H491.7M491.7 207.7V210.5" stroke="#5a5a5a" stroke-width="1" fill="none"/>
<text x="465.65" y="211.2" class="st">**</text>
<path d="M491.7 201.6V204.4M491.7 203H508.5M508.5 201.6V204.4" stroke="#5a5a5a" stroke-width="1" fill="none"/>
<text x="500.1" y="201.75" class="ns">ns</text>
<polyline points="439.6,236.1 457.4,235.63 474.4,233.28 491.7,216.36 508.5,216.83" fill="none" stroke="#000" stroke-width="1.3" stroke-linejoin="round"/>
<polyline points="439.6,237.04 457.4,236.57 474.4,236.1 491.7,218.24 508.5,218.71" fill="none" stroke="#000" stroke-width="1.3" stroke-linejoin="round"/>
<polyline points="439.6,237.98 457.4,237.04 474.4,237.04 491.7,220.59 508.5,221.06" fill="none" stroke="#000" stroke-width="1.3" stroke-linejoin="round"/>
<polyline points="439.6,238.92 457.4,236.1 474.4,237.98 491.7,223.41 508.5,222.24" fill="none" stroke="#000" stroke-width="1.3" stroke-linejoin="round"/>
<polyline points="439.6,237.51 457.4,236.34 474.4,235.16 491.7,219.65 508.5,219.65" fill="none" stroke="#000" stroke-width="1.3" stroke-linejoin="round"/>
<g fill="#000">
<circle cx="439.6" cy="236.1" r="2.18"/>
<circle cx="457.4" cy="235.63" r="2.18"/>
<circle cx="474.4" cy="233.28" r="2.18"/>
<circle cx="491.7" cy="216.36" r="2.18"/>
<circle cx="508.5" cy="216.83" r="2.18"/>
<rect x="437.53" y="234.97" width="4.14" height="4.14"/>
<rect x="455.33" y="234.5" width="4.14" height="4.14"/>
<rect x="472.33" y="234.03" width="4.14" height="4.14"/>
<rect x="489.63" y="216.17" width="4.14" height="4.14"/>
<rect x="506.43" y="216.64" width="4.14" height="4.14"/>
<path d="M439.6 235.68L441.9 237.98L439.6 240.28L437.3 237.98Z"/>
<path d="M457.4 234.74L459.7 237.04L457.4 239.34L455.1 237.04Z"/>
<path d="M474.4 234.74L476.7 237.04L474.4 239.34L472.1 237.04Z"/>
<path d="M491.7 218.29L494 220.59L491.7 222.89L489.4 220.59Z"/>
<path d="M508.5 218.76L510.8 221.06L508.5 223.36L506.2 221.06Z"/>
<path d="M439.6 236.39L442.13 240.88L437.07 240.88Z"/>
<path d="M457.4 233.57L459.93 238.06L454.87 238.06Z"/>
<path d="M474.4 235.45L476.93 239.94L471.87 239.94Z"/>
<path d="M491.7 220.88L494.23 225.37L489.17 225.37Z"/>
<path d="M508.5 219.71L511.03 224.19L505.97 224.19Z"/>
<circle cx="439.6" cy="237.51" r="2.18"/>
<circle cx="457.4" cy="236.34" r="2.18"/>
<circle cx="474.4" cy="235.16" r="2.18"/>
<circle cx="491.7" cy="219.65" r="2.18"/>
<circle cx="508.5" cy="219.65" r="2.18"/>
</g>
<text transform="translate(410.7 217.3) rotate(-90)" class="yl" x="-21.8" textLength="43.6" lengthAdjust="spacingAndGlyphs">% of IL-12<tspan font-size="3.4" dy="-1.8">high</tspan><tspan dy="1.8"> DC</tspan></text>
<text x="1.2" y="11.8" class="pl">A</text>
<text x="128.1" y="11.8" class="pl">B</text>
<text x="256.4" y="11.9" class="pl">C</text>
<text x="386.9" y="188.9" class="pl">D</text>
<text x="49.7" y="252.1" class="xl" textLength="9.8" lengthAdjust="spacingAndGlyphs">1 : 0</text>
<text x="72" y="252.1" class="xl" textLength="9.8" lengthAdjust="spacingAndGlyphs">1 : 0</text>
<text x="94.4" y="252.1" class="xl" textLength="9.8" lengthAdjust="spacingAndGlyphs">1 : 0</text>
<text x="116.9" y="252.1" class="xl" textLength="9.8" lengthAdjust="spacingAndGlyphs">1 : 0</text>
<text x="174.6" y="252.1" class="xl" textLength="9.8" lengthAdjust="spacingAndGlyphs">1 : 0</text>
<text x="196.6" y="252.1" class="xl" textLength="9.8" lengthAdjust="spacingAndGlyphs">1 : 4</text>
<text x="218.2" y="252.1" class="xl" textLength="9.8" lengthAdjust="spacingAndGlyphs">1 : 4</text>
<text x="239.9" y="252.1" class="xl" textLength="9.8" lengthAdjust="spacingAndGlyphs">1 : 4</text>
<text x="301.9" y="252.1" class="xc" textLength="10.6" lengthAdjust="spacingAndGlyphs">1 : 0</text>
<text x="330.65" y="252.1" class="xc" textLength="10.6" lengthAdjust="spacingAndGlyphs">1 : 4</text>
<text x="359.4" y="252.1" class="xc" textLength="10.6" lengthAdjust="spacingAndGlyphs">1 : 4</text>
<text x="350.8" y="258.9" class="xc" textLength="28.4" lengthAdjust="spacingAndGlyphs">(transwell)</text>
<text x="435.3" y="252.1" class="xl" textLength="9.8" lengthAdjust="spacingAndGlyphs">1 : 0</text>
<text x="453.1" y="252.1" class="xl" textLength="9.8" lengthAdjust="spacingAndGlyphs">1 : 0</text>
<text x="470.1" y="252.1" class="xl" textLength="9.8" lengthAdjust="spacingAndGlyphs">1 : 0</text>
<text x="487.4" y="252.1" class="xl" textLength="9.8" lengthAdjust="spacingAndGlyphs">1 : 4</text>
<text x="504.2" y="252.1" class="xl" textLength="9.8" lengthAdjust="spacingAndGlyphs">1 : 4</text>
<text x="7.9" y="261.6" class="rl" textLength="37.2" lengthAdjust="spacingAndGlyphs">B cell SPRNT</text>
<text x="54" y="261.6" class="sg">-</text>
<text x="75.7" y="261.6" class="sg sp">+</text>
<text x="98.1" y="261.6" class="sg sp">+</text>
<text x="120.6" y="261.6" class="sg sp">+</text>
<text x="20.2" y="274.2" class="rs" textLength="25.6" lengthAdjust="spacingAndGlyphs">&#945;-IL-10 (1)</text>
<text x="54" y="274.2" class="sg">-</text>
<text x="76.3" y="274.2" class="sg">-</text>
<text x="98.1" y="274.2" class="sg sp">+</text>
<text x="121.2" y="274.2" class="sg">-</text>
<text x="20.2" y="283.9" class="rs" textLength="25.6" lengthAdjust="spacingAndGlyphs">&#945;-IL-10 (4)</text>
<text x="54" y="283.9" class="sg">-</text>
<text x="76.3" y="283.9" class="sg">-</text>
<text x="98.7" y="283.9" class="sg">-</text>
<text x="120.6" y="283.9" class="sg sp">+</text>
<text x="143.1" y="262.1" class="rs" textLength="25.5" lengthAdjust="spacingAndGlyphs">&#945;-IL-10 (1)</text>
<text x="178.9" y="262.1" class="sg">-</text>
<text x="200.9" y="262.1" class="sg">-</text>
<text x="221.9" y="262.1" class="sg sp">+</text>
<text x="244.2" y="262.1" class="sg">-</text>
<text x="143.1" y="272.2" class="rs" textLength="25.5" lengthAdjust="spacingAndGlyphs">&#945;-IL-10 (4)</text>
<text x="178.9" y="272.2" class="sg">-</text>
<text x="200.9" y="272.2" class="sg">-</text>
<text x="222.5" y="272.2" class="sg">-</text>
<text x="243.6" y="272.2" class="sg sp">+</text>
<text x="393.9" y="261.6" class="rl" textLength="36.6" lengthAdjust="spacingAndGlyphs">B cell SPRNT</text>
<text x="439.6" y="261.6" class="sg">-</text>
<text x="456.8" y="261.6" class="sg sp">+</text>
<text x="473.8" y="261.6" class="sg sp">+</text>
<text x="491.1" y="261.6" class="sg sp">+</text>
<text x="507.9" y="261.6" class="sg sp">+</text>
<text x="399.3" y="274.4" class="rl" textLength="31.7" lengthAdjust="spacingAndGlyphs">&#945;-TGF-&#946; (10)</text>
<text x="439.6" y="274.4" class="sg">-</text>
<text x="457.4" y="274.4" class="sg">-</text>
<text x="473.8" y="274.4" class="sg sp">+</text>
<text x="491.7" y="274.4" class="sg">-</text>
<text x="507.9" y="274.4" class="sg sp">+</text>
<line x1="393.3" y1="41.3" x2="406" y2="41.3" stroke="#000" stroke-width="1.4"/>
<g fill="#000"><path d="M399.3 39.7L400.9 41.3L399.3 42.9L397.7 41.3Z"/></g>
<text x="406.4" y="42.9" class="lg">sample 1</text>
<line x1="393.3" y1="50.13" x2="406" y2="50.13" stroke="#000" stroke-width="1.4"/>
<g fill="#000"><circle cx="399.3" cy="50.13" r="1.52"/></g>
<text x="406.4" y="51.73" class="lg">sample 2</text>
<line x1="393.3" y1="58.96" x2="406" y2="58.96" stroke="#000" stroke-width="1.4"/>
<g fill="#000"><rect x="397.86" y="57.52" width="2.88" height="2.88"/></g>
<text x="406.4" y="60.56" class="lg">sample 3</text>
<line x1="393.3" y1="67.79" x2="406" y2="67.79" stroke="#000" stroke-width="1.4"/>
<text x="406.4" y="69.39" class="lg">sample 4</text>
<line x1="393.3" y1="76.62" x2="406" y2="76.62" stroke="#000" stroke-width="1.4"/>
<text x="406.4" y="78.22" class="lg">sample 5</text>
<line x1="393.3" y1="85.45" x2="406" y2="85.45" stroke="#000" stroke-width="1.4"/>
<g fill="#000"><path d="M399.3 83.85L400.9 85.45L399.3 87.05L397.7 85.45Z"/></g>
<text x="406.4" y="87.05" class="lg">sample 6</text>
<line x1="393.3" y1="94.28" x2="406" y2="94.28" stroke="#000" stroke-width="1.4"/>
<text x="406.4" y="95.88" class="lg">sample 7</text>
<line x1="393.3" y1="103.11" x2="406" y2="103.11" stroke="#000" stroke-width="1.4"/>
<text x="406.4" y="104.71" class="lg">sample 8</text>
</svg></body></html>
